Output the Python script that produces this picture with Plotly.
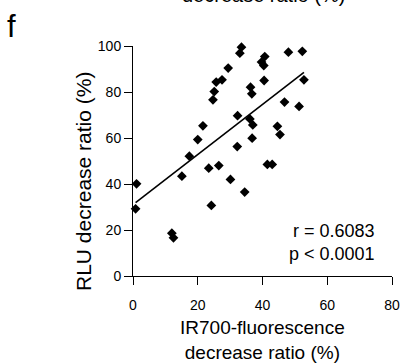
import plotly.graph_objects as go

# Data
ir700_decrease = [0.8, 1.1, 12.0, 12.5, 15.1, 17.4, 20.0, 21.6, 23.4, 24.2,
                  24.7, 25.1, 25.7, 26.5, 27.5, 29.4, 30.1, 32.2, 32.3, 33.0,
                  33.5, 34.5, 36.1, 36.3, 36.7, 36.8, 37.0, 39.7, 40.4, 40.7,
                  40.5, 41.5, 43.0, 44.6, 45.4, 46.8, 48.0, 51.3, 52.3, 52.8]
rlu_decrease = [29.2, 40.1, 18.6, 16.6, 43.4, 52.1, 59.3, 65.3, 46.9, 30.7,
                76.6, 80.2, 84.3, 48.0, 85.3, 90.4, 42.0, 56.3, 69.7, 96.9,
                99.5, 36.5, 68.3, 82.1, 79.2, 59.9, 65.7, 93.0, 91.5, 95.4,
                85.0, 48.5, 48.5, 65.1, 61.5, 75.6, 97.3, 73.7, 97.7, 85.3]

# regression line
fit_slope = 1.09
fit_intercept = 31.0
fit_x = [min(ir700_decrease), max(ir700_decrease)]
fit_y = [fit_intercept + fit_slope * v for v in fit_x]

x_ticks = [0, 20, 40, 60, 80]
y_ticks = [0, 20, 40, 60, 80, 100]

FONT = "Liberation Sans, Arial, sans-serif"

L, R, T, B = 133, 13, 46, 87
W, H = 405, 363
PW, PH = W - L - R, H - T - B


def px(x):
    return (x - L) / PW


def py(y):
    return (H - B - y) / PH


fig = go.Figure()
fig.add_trace(go.Scatter(x=fit_x, y=fit_y, mode="lines",
                         line=dict(color="black", width=1.6),
                         showlegend=False, hoverinfo="skip"))
fig.add_trace(go.Scatter(x=ir700_decrease, y=rlu_decrease, mode="markers",
                         marker=dict(symbol="diamond", size=7.5, color="black",
                                     line=dict(width=0)),
                         showlegend=False, cliponaxis=False))

axis_common = dict(showline=True, linecolor="black", linewidth=1,
                   ticks="outside", ticklen=8, tickcolor="black", tickwidth=1,
                   showgrid=False, zeroline=False, automargin=False,
                   tickfont=dict(family=FONT, size=14, color="black"))

fig.update_layout(
    template="none",
    width=W, height=H,
    margin=dict(l=L, r=R, t=T, b=B, pad=0),
    paper_bgcolor="white", plot_bgcolor="white",
    font=dict(family=FONT, color="black"),
    xaxis=dict(range=[0, 80], tickvals=x_ticks, ticklabelstandoff=8,
               **axis_common),
    yaxis=dict(range=[0, 100], tickvals=y_ticks, **axis_common),
    annotations=[
        dict(text="IR700-fluorescence<br>decrease ratio (%)", xref="paper",
             yref="paper", x=px(262), y=py(340), xanchor="center",
             yanchor="middle", showarrow=False,
             font=dict(family=FONT, size=19, color="black")),
        dict(text="RLU decrease ratio (%)", xref="paper", yref="paper",
             x=px(84), y=py(182), xanchor="center", yanchor="middle",
             textangle=-90, showarrow=False,
             font=dict(family=FONT, size=21, color="black")),
        dict(text="r = 0.6083<br>p < 0.0001", xref="paper", yref="paper",
             x=px(377), y=py(242.5), xanchor="right", yanchor="middle",
             align="right", showarrow=False,
             font=dict(family=FONT, size=18, color="black")),
        dict(text="f", xref="paper", yref="paper", x=px(5), y=py(26),
             xanchor="left", yanchor="middle",
             showarrow=False, font=dict(family=FONT, size=31, color="black")),
        dict(text="decrease ratio (%)", xref="paper", yref="paper",
             x=px(263), y=py(-5), xanchor="center", yanchor="middle",
             showarrow=False, font=dict(family=FONT, size=20, color="black")),
    ],
)

fig.write_html("out.html")
